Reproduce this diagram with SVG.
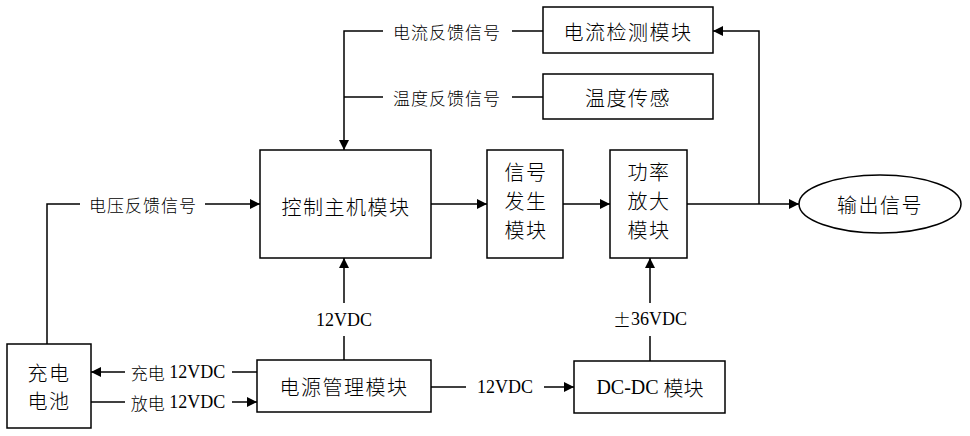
<svg xmlns="http://www.w3.org/2000/svg" width="970" height="436" viewBox="0 0 970 436">
<defs>
<marker id="arr" viewBox="0 0 10 10" refX="10" refY="5" markerWidth="10" markerHeight="10" markerUnits="userSpaceOnUse" orient="auto">
<path d="M0,0 L10,5 L0,10 z" fill="#000"/>
</marker>
<style>
.box{fill:#fff;stroke:#000;stroke-width:1.5}
.ln{fill:none;stroke:#000;stroke-width:1.5}
.t{font-family:"Noto Sans CJK SC","Liberation Sans",sans-serif;font-size:20px;font-weight:300;letter-spacing:1.5px;text-anchor:middle;dominant-baseline:central;fill:#000}
.l{font-family:"Noto Sans CJK SC","Liberation Sans",sans-serif;font-size:17px;font-weight:300;letter-spacing:1px;text-anchor:middle;dominant-baseline:central;fill:#000}
.s{font-family:"Liberation Serif","Noto Sans CJK SC",serif;font-size:18px;text-anchor:middle;dominant-baseline:central;fill:#000}
.m{font-family:"Liberation Serif","Noto Sans CJK SC",serif;font-size:20px;text-anchor:middle;dominant-baseline:central;fill:#000}
.cj{font-family:"Noto Sans CJK SC",sans-serif;font-weight:300}
</style>
</defs>
<rect width="970" height="436" fill="#fff"/>
<g id="connectors">
<path class="ln" d="M47,344 V204 H80"/>
<path class="ln" d="M205,204 H260" marker-end="url(#arr)"/>
<path class="ln" d="M431,204 H487" marker-end="url(#arr)"/>
<path class="ln" d="M563,204 H610" marker-end="url(#arr)"/>
<path class="ln" d="M687,204 H799" marker-end="url(#arr)"/>
<path class="ln" d="M759,204 V31 H713" marker-end="url(#arr)"/>
<path class="ln" d="M543,31 H512"/>
<path class="ln" d="M383,31 H344 V150" marker-end="url(#arr)"/>
<path class="ln" d="M543,97 H512"/>
<path class="ln" d="M383,97 H344"/>
<path class="ln" d="M344,303 V258" marker-end="url(#arr)"/>
<path class="ln" d="M344,336 V360"/>
<path class="ln" d="M650,303 V258" marker-end="url(#arr)"/>
<path class="ln" d="M650,336 V361"/>
<path class="ln" d="M431,387 H466"/>
<path class="ln" d="M544,387 H574" marker-end="url(#arr)"/>
<path class="ln" d="M257,372 H232"/>
<path class="ln" d="M125,372 H91" marker-end="url(#arr)"/>
<path class="ln" d="M91,402 H125"/>
<path class="ln" d="M232,402 H257" marker-end="url(#arr)"/>
</g>
<g id="labels">
<text class="l" x="143" y="204">电压反馈信号</text>
<text class="l" x="447" y="31">电流反馈信号</text>
<text class="l" x="447" y="97">温度反馈信号</text>
<text class="s" x="344" y="320">12VDC</text>
<text class="s" x="650" y="319"><tspan class="cj">±</tspan>36VDC</text>
<text class="s" x="505" y="387">12VDC</text>
<text class="s" x="178" y="372"><tspan class="cj" font-size="17">充电</tspan> 12VDC</text>
<text class="s" x="178" y="402"><tspan class="cj" font-size="17">放电</tspan> 12VDC</text>
</g>
<g id="current-detect">
<rect class="box" x="543" y="7" width="170" height="46"/>
<text class="t" x="628" y="31">电流检测模块</text>
</g>
<g id="temp-sensor">
<rect class="box" x="543" y="74" width="170" height="45"/>
<text class="t" x="628" y="97">温度传感</text>
</g>
<g id="controller">
<rect class="box" x="260" y="150" width="171" height="108"/>
<text class="t" x="346" y="206">控制主机模块</text>
</g>
<g id="signal-gen">
<rect class="box" x="487" y="150" width="76" height="108"/>
<text class="t" x="526" y="171">信号</text>
<text class="t" x="526" y="200">发生</text>
<text class="t" x="526" y="229">模块</text>
</g>
<g id="power-amp">
<rect class="box" x="610" y="150" width="77" height="108"/>
<text class="t" x="649" y="171">功率</text>
<text class="t" x="649" y="200">放大</text>
<text class="t" x="649" y="229">模块</text>
</g>
<g id="output">
<ellipse class="box" cx="880" cy="204" rx="81" ry="29"/>
<text class="t" x="880" y="204">输出信号</text>
</g>
<g id="battery">
<rect class="box" x="7" y="344" width="84" height="84"/>
<text class="t" x="49" y="372">充电</text>
<text class="t" x="49" y="400">电池</text>
</g>
<g id="power-mgmt">
<rect class="box" x="257" y="360" width="174" height="52"/>
<text class="t" x="344" y="386">电源管理模块</text>
</g>
<g id="dcdc">
<rect class="box" x="574" y="361" width="151" height="52"/>
<text class="m" x="650" y="387">DC-DC <tspan class="cj">模块</tspan></text>
</g>
</svg>
